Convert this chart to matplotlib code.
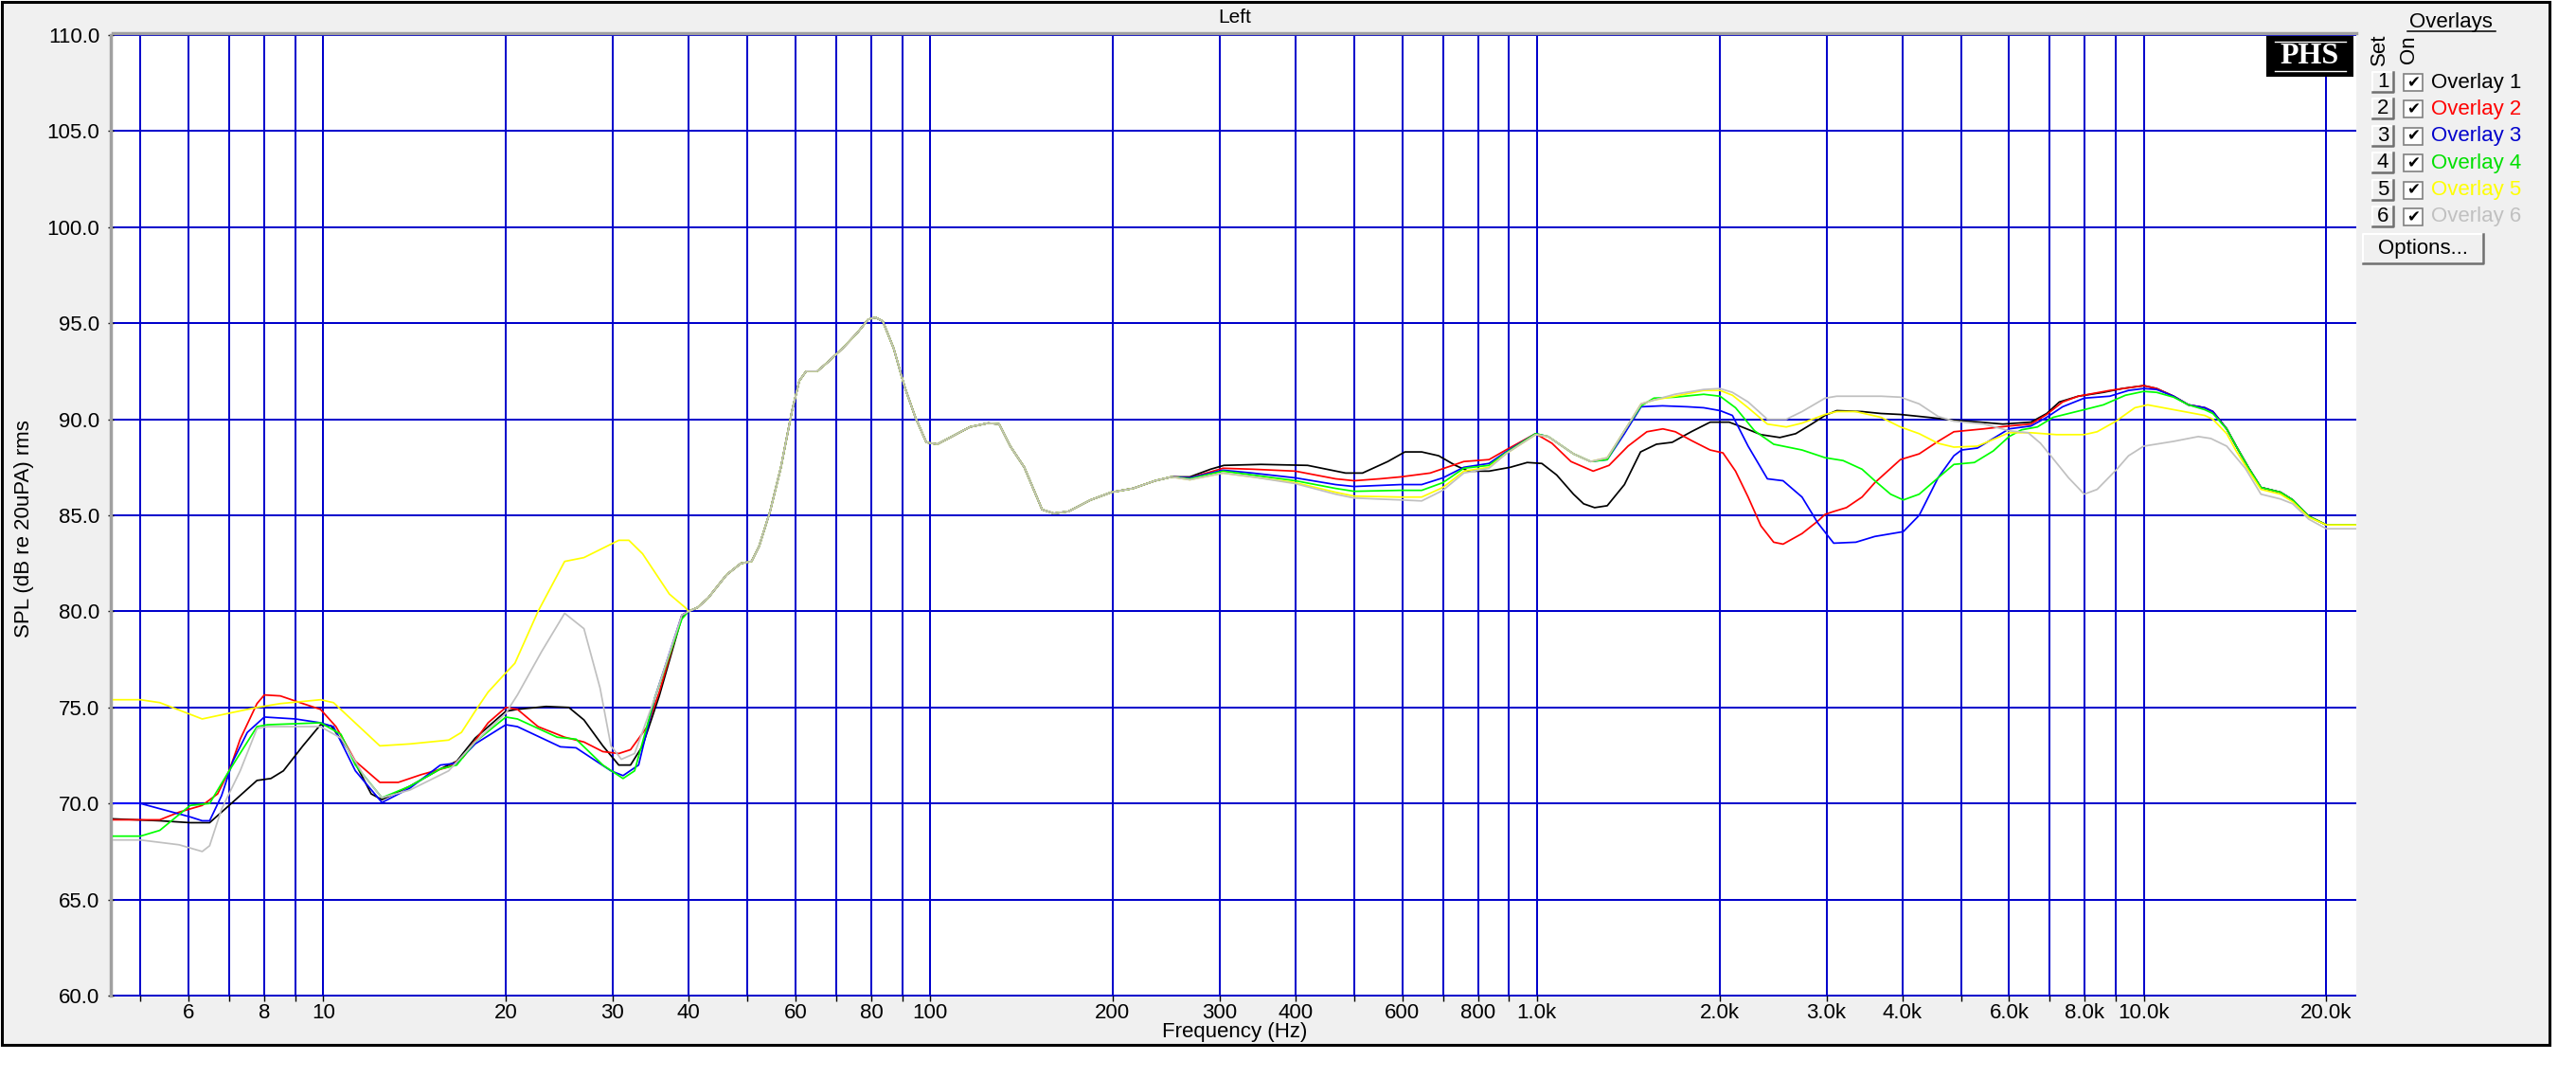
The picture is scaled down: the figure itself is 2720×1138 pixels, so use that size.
import numpy as np
import matplotlib.pyplot as plt
from matplotlib.patches import Rectangle
from matplotlib.lines import Line2D
from matplotlib.ticker import NullLocator

plt.rcParams['font.family'] = ['Liberation Sans', 'DejaVu Sans']

# ---- data (frequency in Hz, level in dB) ----
# all six overlays are identical between 40 Hz and 250 Hz
common_hz = [40, 41.4, 43.1, 46.2, 48.8, 50.8, 52.3, 54.5, 56.8, 59.2,
             60.9, 62.5, 65.2, 68, 71.8, 75.9, 79.1, 81.3, 83.6, 87.1,
             90.8, 94.6, 98.6, 102.8, 108.6, 116.4, 124.7, 130, 135.6, 143,
             153, 160, 169, 184, 199, 216, 235, 250]
common_db = [80.0, 80.2, 80.7, 81.9, 82.5, 82.6, 83.4, 85.2, 87.5, 90.4,
             92.0, 92.5, 92.5, 93.0, 93.7, 94.5, 95.2, 95.3, 95.1, 93.7,
             91.7, 90.1, 88.8, 88.7, 89.1, 89.6, 89.8, 89.75, 88.6, 87.5,
             85.3, 85.1, 85.2, 85.8, 86.2, 86.4, 86.8, 87.0]

# overlay 1 (black)
black_lo_hz = [4.5, 5.38, 6.04, 6.5, 7.0, 7.78, 8.2, 8.6, 9.26, 9.9,
               10.3, 11.0, 12.0, 12.5, 13.9, 15.6, 16.6, 17.8, 20.0, 20.9,
               23.3, 25.4, 26.9, 28.9, 30.7, 32.1, 33.6, 35.8, 39.0]
black_lo_db = [69.2, 69.1, 69.0, 69.0, 69.9, 71.2, 71.3, 71.7, 73.0, 74.1,
               74.05, 72.8, 70.5, 70.2, 70.9, 71.8, 72.2, 73.4, 74.8, 74.9,
               75.05, 75.0, 74.35, 73.0, 72.0, 72.0, 73.0, 75.6, 79.7]
black_hi_hz = [268, 290, 305, 351, 419, 484, 516, 568, 606, 646,
               689, 734, 771, 834, 904, 964, 1019, 1078, 1149, 1194,
               1245, 1306, 1394, 1482, 1574, 1671, 1796, 1930, 2074, 2177,
               2340, 2514, 2670, 2836, 2985, 3120, 3434, 3691, 3972, 4421,
               4866, 5380, 5860, 6520, 6920, 7260, 7800, 8580, 9220, 10000,
               10500, 11200, 11850, 12600, 13000, 13700, 14200, 14900, 15600, 16800,
               17600, 18700, 20000, 22400]
black_hi_db = [87.0, 87.4, 87.6, 87.65, 87.6, 87.2, 87.2, 87.8, 88.3, 88.3,
               88.1, 87.6, 87.3, 87.3, 87.5, 87.75, 87.7, 87.1, 86.1, 85.6,
               85.4, 85.5, 86.6, 88.3, 88.7, 88.8, 89.35, 89.85, 89.85, 89.6,
               89.2, 89.05, 89.25, 89.75, 90.2, 90.45, 90.4, 90.3, 90.25, 90.1,
               89.95, 89.85, 89.75, 89.85, 90.3, 90.9, 91.2, 91.4, 91.6, 91.75,
               91.6, 91.2, 90.75, 90.6, 90.4, 89.5, 88.6, 87.45, 86.45, 86.2,
               85.8, 84.95, 84.5, 84.5]

# overlay 2 (red)
red_lo_hz = [4.5, 5.38, 5.79, 6.32, 6.7, 7.0, 7.3, 7.78, 8.0, 8.5,
             9.26, 9.9, 10.5, 11.3, 12.4, 13.3, 14.5, 16.1, 17.0, 18.7,
             20.0, 20.9, 22.6, 25.0, 26.9, 28.9, 30.7, 32.1, 34.2, 35.8, 39.0]
red_lo_db = [69.15, 69.15, 69.55, 69.9, 70.5, 71.7, 73.35, 75.2, 75.65, 75.6,
             75.2, 74.9, 74.0, 72.2, 71.1, 71.1, 71.5, 71.9, 72.4, 74.2,
             75.0, 74.9, 74.0, 73.45, 73.2, 72.7, 72.6, 72.8, 74.0, 75.8, 79.8]
red_hi_hz = [268, 304, 340, 400, 466, 500, 551, 596, 667, 711,
             758, 834, 889, 995, 1059, 1138, 1238, 1315, 1413, 1518,
             1613, 1691, 1796, 1930, 2026, 2125, 2229, 2340, 2456, 2545,
             2735, 2904, 2985, 3084, 3236, 3434, 3605, 3972, 4266, 4582,
             4866, 5450, 6000, 6520, 6920, 7350, 7800, 8790, 10000, 10500,
             11200, 11850, 12600, 13000, 13700, 14200, 14900, 15600, 16800, 17600,
             18700, 20000, 22400]
red_hi_db = [86.95, 87.45, 87.4, 87.3, 86.9, 86.8, 86.9, 87.0, 87.2, 87.5,
             87.8, 87.9, 88.4, 89.25, 88.75, 87.8, 87.3, 87.6, 88.6, 89.35,
             89.5, 89.35, 88.9, 88.4, 88.25, 87.3, 85.95, 84.45, 83.6, 83.5,
             84.05, 84.7, 85.05, 85.2, 85.4, 85.95, 86.7, 87.9, 88.2, 88.85,
             89.35, 89.5, 89.65, 89.75, 90.25, 90.9, 91.2, 91.5, 91.75, 91.6,
             91.2, 90.75, 90.6, 90.4, 89.5, 88.6, 87.45, 86.45, 86.2, 85.8,
             84.95, 84.5, 84.5]

# overlay 3 (blue)
blue_lo_hz = [4.5, 5.0, 6.04, 6.32, 6.5, 6.8, 7.1, 7.5, 8.0, 9.0,
              9.9, 10.4, 11.3, 12.5, 13.9, 15.6, 16.6, 17.8, 20.0, 20.9,
              24.6, 26.1, 29.8, 31.2, 33.1, 35.2, 39.0]
blue_lo_db = [70.0, 70.0, 69.3, 69.1, 69.1, 70.4, 72.2, 73.7, 74.5, 74.4,
              74.2, 74.0, 71.7, 70.05, 70.8, 72.0, 72.1, 73.1, 74.1, 74.0,
              72.95, 72.9, 71.7, 71.45, 72.0, 75.5, 79.8]
blue_hi_hz = [268, 304, 340, 400, 466, 500, 596, 646, 700, 758,
              834, 889, 995, 1044, 1149, 1226, 1306, 1394, 1485, 1610,
              1771, 1883, 2004, 2100, 2229, 2398, 2545, 2735, 2904, 3084,
              3354, 3605, 4016, 4266, 4582, 4866, 5010, 5320, 5650, 6000,
              6520, 6920, 7350, 7980, 8790, 9440, 10000, 10500, 11200, 11850,
              12600, 13000, 13700, 14200, 14900, 15600, 16800, 17600, 18700, 20000,
              22400]
blue_hi_db = [86.95, 87.35, 87.2, 86.95, 86.6, 86.5, 86.6, 86.6, 86.95, 87.5,
              87.7, 88.3, 89.25, 89.1, 88.2, 87.8, 87.9, 89.25, 90.65, 90.7,
              90.65, 90.6, 90.45, 90.2, 88.6, 86.9, 86.8, 85.95, 84.6, 83.55,
              83.6, 83.9, 84.15, 85.0, 86.95, 88.1, 88.4, 88.5, 89.0, 89.5,
              89.65, 90.1, 90.65, 91.1, 91.2, 91.5, 91.6, 91.55, 91.2, 90.75,
              90.6, 90.4, 89.5, 88.6, 87.45, 86.45, 86.2, 85.8, 84.95, 84.5,
              84.5]

# overlay 4 (green)
green_lo_hz = [4.5, 5.0, 5.38, 6.04, 6.5, 7.0, 7.78, 8.1, 9.9, 10.7,
               11.3, 12.5, 13.9, 15.6, 16.6, 17.8, 20.0, 20.9, 24.3, 26.1,
               28.9, 31.2, 32.6, 35.2, 39.0]
green_lo_db = [68.3, 68.3, 68.6, 69.9, 70.0, 71.7, 74.0, 74.1, 74.2, 73.6,
               72.0, 70.3, 70.9, 71.8, 72.0, 73.2, 74.5, 74.4, 73.45, 73.35,
               72.0, 71.3, 71.7, 75.5, 79.6]
green_hi_hz = [268, 304, 340, 400, 466, 500, 596, 646, 700, 758,
               834, 889, 995, 1044, 1149, 1226, 1306, 1394, 1485, 1559,
               1688, 1883, 2004, 2125, 2284, 2456, 2735, 2985, 3196, 3434,
               3605, 3827, 4016, 4266, 4582, 4866, 5260, 5650, 6000, 6290,
               6680, 7090, 7980, 8580, 9330, 10000, 10500, 11200, 11850, 12600,
               13000, 13700, 14200, 14900, 15600, 16800, 17600, 18700, 20000, 22400]
green_hi_db = [86.9, 87.3, 87.1, 86.8, 86.4, 86.25, 86.3, 86.3, 86.7, 87.45,
               87.6, 88.25, 89.25, 89.1, 88.2, 87.8, 87.9, 89.4, 90.7, 91.1,
               91.15, 91.3, 91.2, 90.6, 89.4, 88.7, 88.4, 88.0, 87.85, 87.4,
               86.8, 86.1, 85.8, 86.1, 86.95, 87.65, 87.75, 88.35, 89.1, 89.45,
               89.6, 90.1, 90.5, 90.75, 91.25, 91.45, 91.4, 91.15, 90.75, 90.5,
               90.3, 89.5, 88.6, 87.45, 86.45, 86.2, 85.8, 84.95, 84.5, 84.5]

# overlay 5 (yellow)
yellow_lo_hz = [4.5, 5.0, 5.38, 6.32, 7.0, 7.78, 8.5, 9.9, 10.4, 12.4,
                13.9, 16.1, 16.9, 17.8, 18.7, 20.0, 20.7, 22.6, 25.0, 26.9,
                30.7, 31.9, 33.6, 37.2, 39.5]
yellow_lo_db = [75.4, 75.4, 75.25, 74.4, 74.7, 75.0, 75.2, 75.4, 75.25, 73.0,
                73.1, 73.3, 73.7, 74.8, 75.8, 76.8, 77.3, 80.0, 82.6, 82.8,
                83.7, 83.7, 83.0, 80.9, 80.2]
yellow_hi_hz = [268, 304, 340, 400, 466, 500, 596, 646, 700, 758,
                834, 889, 995, 1044, 1149, 1226, 1306, 1394, 1485, 1559,
                1688, 1883, 2004, 2100, 2229, 2398, 2576, 2735, 2985, 3120,
                3354, 3691, 3972, 4266, 4582, 4866, 5320, 6000, 6520, 7180,
                7980, 8380, 9000, 9670, 10150, 11200, 12600, 13000, 13700, 14200,
                14900, 15600, 16800, 17600, 18700, 20000, 22400]
yellow_hi_db = [86.85, 87.2, 87.0, 86.7, 86.2, 86.0, 85.95, 85.95, 86.45, 87.3,
                87.5, 88.2, 89.2, 89.1, 88.2, 87.8, 88.0, 89.4, 90.8, 91.0,
                91.2, 91.5, 91.5, 91.25, 90.6, 89.75, 89.6, 89.8, 90.25, 90.4,
                90.4, 90.1, 89.6, 89.25, 88.75, 88.55, 88.6, 89.3, 89.3, 89.2,
                89.2, 89.35, 89.9, 90.6, 90.75, 90.5, 90.2, 90.0, 89.25, 88.35,
                87.3, 86.35, 86.1, 85.7, 84.9, 84.5, 84.5]

# overlay 6 (grey)
gray_lo_hz = [4.5, 5.0, 5.79, 6.32, 6.5, 6.8, 7.3, 7.78, 8.1, 9.9,
              10.7, 11.7, 12.5, 13.9, 16.1, 17.8, 20.0, 20.9, 22.9, 25.0,
              26.9, 28.6, 29.8, 31.0, 32.6, 35.2, 39.0]
gray_lo_db = [68.1, 68.1, 67.85, 67.5, 67.8, 69.7, 71.7, 73.9, 74.0, 74.0,
              73.4, 71.4, 70.3, 70.7, 71.7, 73.2, 74.7, 75.65, 77.9, 79.9,
              79.1, 76.0, 73.0, 72.3, 72.6, 75.5, 79.8]
gray_hi_hz = [268, 304, 340, 400, 466, 500, 596, 646, 700, 758,
              834, 889, 995, 1044, 1149, 1226, 1306, 1394, 1485, 1559,
              1688, 1883, 2004, 2100, 2229, 2398, 2576, 2735, 2985, 3120,
              3691, 3972, 4266, 4582, 4866, 5450, 6000, 6450, 6760, 7090,
              7520, 7980, 8380, 9000, 9440, 10000, 11200, 12300, 12900, 13700,
              14700, 15600, 16800, 17600, 18700, 20000, 22400]
gray_hi_db = [86.85, 87.2, 87.0, 86.65, 86.1, 85.9, 85.8, 85.75, 86.3, 87.2,
              87.45, 88.2, 89.2, 89.1, 88.2, 87.8, 88.0, 89.4, 90.8, 91.0,
              91.3, 91.55, 91.6, 91.4, 90.9, 90.0, 90.0, 90.4, 91.1, 91.2,
              91.2, 91.15, 90.8, 90.15, 89.9, 89.75, 89.4, 89.3, 88.75, 87.95,
              86.95, 86.1, 86.35, 87.35, 88.1, 88.6, 88.85, 89.1, 89.0, 88.6,
              87.45, 86.1, 85.85, 85.6, 84.8, 84.3, 84.3]

overlay_names = ['Overlay 1', 'Overlay 2', 'Overlay 3', 'Overlay 4', 'Overlay 5', 'Overlay 6']
overlay_colors = ['#000000', '#ff0000', '#0000ff', '#00ff00', '#ffff00', '#c0c0c0']
text_colors = ['#000000', '#ff0000', '#0000cc', '#00e000', '#ffff00', '#c0c0c0']
button_labels = ['1', '2', '3', '4', '5', '6']
overlay_lo = [(black_lo_hz, black_lo_db), (red_lo_hz, red_lo_db), (blue_lo_hz, blue_lo_db),
              (green_lo_hz, green_lo_db), (yellow_lo_hz, yellow_lo_db), (gray_lo_hz, gray_lo_db)]
overlay_hi = [(black_hi_hz, black_hi_db), (red_hi_hz, red_hi_db), (blue_hi_hz, blue_hi_db),
              (green_hi_hz, green_hi_db), (yellow_hi_hz, yellow_hi_db), (gray_hi_hz, gray_hi_db)]

x_labels = {6: '6', 8: '8', 10: '10', 20: '20', 30: '30', 40: '40', 60: '60', 80: '80',
            100: '100', 200: '200', 300: '300', 400: '400', 600: '600', 800: '800',
            1000: '1.0k', 2000: '2.0k', 3000: '3.0k', 4000: '4.0k', 6000: '6.0k',
            8000: '8.0k', 10000: '10.0k', 20000: '20.0k'}
y_ticks = [60, 65, 70, 75, 80, 85, 90, 95, 100, 105, 110]

# ---- layout helpers (pixel coords of the 2720x1138 canvas) ----
W, H = 2720, 1138
FS = 16


def fx(px):
    return px / W


def fy(py):
    return 1 - py / H


def button(fig, x0, y0, x1, y1, label=None, size=FS):
    fig.add_artist(Rectangle((fx(x0), fy(y1)), fx(x1) - fx(x0), fy(y0) - fy(y1),
                             transform=fig.transFigure, facecolor='#f0f0f0',
                             edgecolor='none', zorder=2))
    fig.add_artist(Line2D([fx(x0), fx(x0), fx(x1)], [fy(y1), fy(y0), fy(y0)],
                          color='white', lw=1.5, zorder=3))
    fig.add_artist(Line2D([fx(x0), fx(x1), fx(x1)], [fy(y1), fy(y1), fy(y0)],
                          color='#707070', lw=1.8, zorder=3))
    if label:
        fig.text(fx((x0 + x1) / 2), fy((y0 + y1) / 2), label, ha='center', va='center',
                 fontsize=size, zorder=4)


fig = plt.figure(figsize=(W / 100, H / 100), dpi=100, facecolor='white')

# outer panel with black frame
fig.add_artist(Rectangle((fx(2), fy(1103)), fx(2692) - fx(2), fy(2) - fy(1103),
                         transform=fig.transFigure, facecolor='#f0f0f0',
                         edgecolor='black', linewidth=2.2, zorder=-1))

ax = fig.add_axes([fx(119), fy(1051), fx(2488) - fx(119), fy(37) - fy(1051)])
ax.set_facecolor('white')
ax.set_xscale('log')
ax.set_xlim(4.5, 22400)
ax.set_ylim(60, 110)

grid_hz = [m * 10 ** e for e in range(0, 5) for m in range(1, 10) if 4.5 <= m * 10 ** e <= 22400]
ax.vlines(grid_hz, 60, 110, colors='#0000cc', linewidth=1.1, zorder=1, clip_on=False,
          antialiased=False)
ax.hlines(y_ticks, 4.5, 22400, colors='#0000cc', linewidth=1.3, zorder=1, clip_on=False,
          antialiased=False)

ax.set_xticks(grid_hz, labels=[x_labels.get(f, '') for f in grid_hz])
ax.xaxis.set_minor_locator(NullLocator())
ax.set_yticks(y_ticks, labels=['%.1f' % v for v in y_ticks])
ax.tick_params(axis='x', direction='out', length=4.3, width=1.0, color='black',
               pad=1.5, labelsize=FS)
ax.tick_params(axis='y', direction='inout', length=4.5, width=1.0, color='black',
               pad=6, labelsize=FS)

for side in ('right', 'bottom'):
    ax.spines[side].set_visible(False)
for side in ('left', 'top'):
    ax.spines[side].set_color('#a0a0a0')
    ax.spines[side].set_linewidth(2.5)
    ax.spines[side].set_position(('outward', 1.5))

for i in range(6):
    hz = np.concatenate([overlay_lo[i][0], common_hz, overlay_hi[i][0]])
    db = np.concatenate([overlay_lo[i][1], common_db, overlay_hi[i][1]])
    ax.plot(hz, db, color=overlay_colors[i], linewidth=1.25, zorder=3 + i)

# titles and axis labels
fig.text(fx(1304), fy(19), 'Left', ha='center', va='center', fontsize=FS - 1)
fig.text(fx(1304), fy(1090), 'Frequency (Hz)', ha='center', va='center', fontsize=FS)
fig.text(fx(26), fy(558), 'SPL (dB re 20uPA) rms', rotation=90, ha='center',
         va='center', fontsize=FS)

# PHS logo
fig.add_artist(Rectangle((fx(2393), fy(81)), fx(2485) - fx(2393), fy(38) - fy(81),
                         transform=fig.transFigure, facecolor='black', edgecolor='none',
                         zorder=5))
for ly in (44, 75):
    fig.add_artist(Line2D([fx(2402), fx(2477)], [fy(ly), fy(ly)], color='white',
                          lw=1.0, zorder=6))
fig.text(fx(2439), fy(59.5), 'PHS', ha='center', va='center', color='white',
         family='Liberation Serif', fontweight='bold', fontsize=23, zorder=6)

# overlay panel on the right
fig.text(fx(2588), fy(24), 'Overlays', ha='center', va='center', fontsize=FS)
fig.add_artist(Line2D([fx(2542), fx(2635)], [fy(33), fy(33)], color='black', lw=1.1))
fig.text(fx(2512), fy(52), 'Set', rotation=90, ha='center', va='center', fontsize=FS)
fig.text(fx(2543), fy(52), 'On', rotation=90, ha='center', va='center', fontsize=FS)

for i in range(6):
    yc = 87 + i * 28.4
    button(fig, 2505, yc - 11, 2527, yc + 10, button_labels[i])
    fig.add_artist(Rectangle((fx(2538), fy(yc + 9)), fx(2558) - fx(2538), fy(yc - 9) - fy(yc + 9),
                             transform=fig.transFigure, facecolor='white',
                             edgecolor='#808080', linewidth=1.2, zorder=3))
    fig.text(fx(2548), fy(yc), '\u2714', ha='center', va='center', fontsize=12,
             family='DejaVu Sans', zorder=4)
    fig.text(fx(2567), fy(yc), overlay_names[i], ha='left', va='center', fontsize=FS,
             color=text_colors[i])

button(fig, 2495, 247, 2622, 278, 'Options...')

fig.savefig('out.png', dpi=100, facecolor='white')
